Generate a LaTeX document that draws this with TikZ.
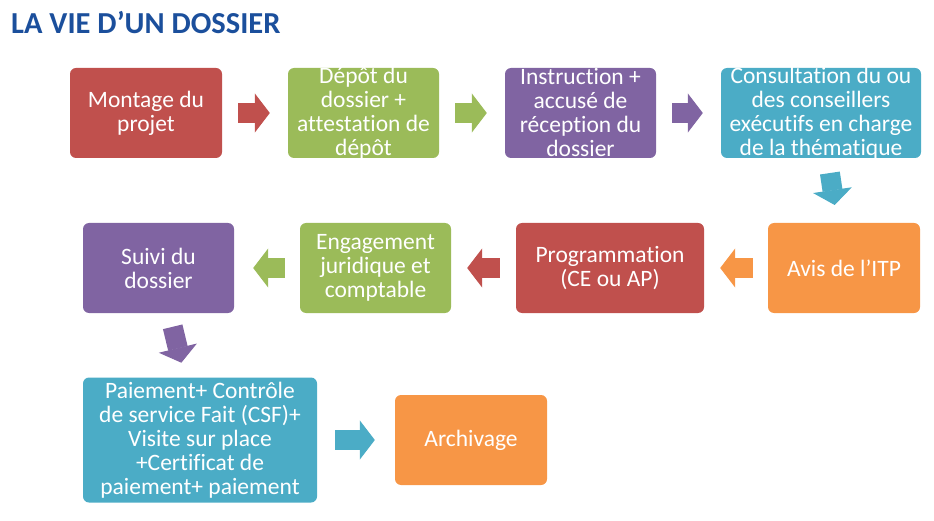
\documentclass[tikz,border=0pt]{standalone}
\usepackage{fontspec}
\setmainfont{Carlito}[Ligatures=NoCommon]
\usepackage{tikz}
\usetikzlibrary{calc}
\usetikzlibrary{arrows.meta}
\definecolor{vred}{HTML}{C0504D}
\definecolor{vgreen}{HTML}{9BBB59}
\definecolor{vpurple}{HTML}{8064A2}
\definecolor{vteal}{HTML}{4BACC6}
\definecolor{vorange}{HTML}{F79646}
\definecolor{vtitle}{HTML}{1B4F9C}
\tikzset{
    stepbox/.style={
    fill=#1,
    rounded corners=6pt,
    inner sep=0pt,
    minimum height=90pt
    },
    boxtext/.style={
    text=white,
    align=center,
    inner sep=0pt,
    font=\fontsize{23.5}{24}\selectfont
    },
    fatarrow/.style={
    draw=#1,
    line width=20pt,
    -{Triangle[width=39pt,length=15pt,line width=1pt]}
    }
}

\begin{document}
\begin{tikzpicture}[x=1pt,y=-1pt]
\useasboundingbox (0,0) rectangle (934,521);
\node[anchor=base west,inner sep=0pt,text=vtitle,font=\fontsize{30.5}{32}\selectfont\bfseries] (title) at (11,34) {LA VIE D’UN DOSSIER};
% first row
\node[stepbox=vred,minimum width=152pt,label={[boxtext]center:{Montage du\\projet}}] (n1) at (146,113) {};
\node[stepbox=vgreen,minimum width=151pt,label={[boxtext]center:{Dépôt du\\dossier +\\attestation de\\dépôt}}] (n2) at (363.5,113) {};
\node[stepbox=vpurple,minimum width=151pt,label={[boxtext]center:{Instruction +\\accusé de\\réception du\\dossier}}] (n3) at (580.5,113) {};
\node[stepbox=vteal,minimum width=200pt,label={[boxtext]center:{Consultation du ou\\des conseillers\\exécutifs en charge\\de la thématique}}] (n4) at (821,113) {};
% second row
\node[stepbox=vorange,minimum width=152pt,label={[boxtext]center:{Avis de l’ITP}}] (n5) at (844,268) {};
\node[stepbox=vred,minimum width=188pt,label={[boxtext]center:{Programmation\\(CE ou AP)}}] (n6) at (610,268) {};
\node[stepbox=vgreen,minimum width=151pt,label={[boxtext]center:{Engagement\\juridique et\\comptable}}] (n7) at (375.5,268) {};
\node[stepbox=vpurple,minimum width=151pt,label={[boxtext]center:{Suivi du\\dossier}}] (n8) at (158.5,268) {};
% third row
\node[stepbox=vteal,minimum width=234pt,minimum height=125pt,label={[boxtext]center:{Paiement+ Contrôle\\de service Fait (CSF)+\\Visite sur place\\+Certificat de\\paiement+ paiement}}] (n9) at (200,440) {};
\node[stepbox=vorange,minimum width=152pt,label={[boxtext]center:{Archivage}}] (n10) at (471,440) {};
% arrows
\draw[fatarrow=vred,shorten <=16pt,shorten >=18pt] (n1) -- (n2);
\draw[fatarrow=vgreen,shorten <=16pt,shorten >=18pt] (n2) -- (n3);
\draw[fatarrow=vpurple,shorten <=16pt,shorten >=18pt] (n3) -- (n4);
\draw[fatarrow=vteal,shorten <=15pt,shorten >=18pt] (n4) -- (n5);
\draw[fatarrow=vorange,shorten <=15pt,shorten >=16pt] (n5) -- (n6);
\draw[fatarrow=vred,shorten <=16pt,shorten >=16pt] (n6) -- (n7);
\draw[fatarrow=vgreen,shorten <=15pt,shorten >=19pt] (n7) -- (n8);
\draw[fatarrow=vpurple,shorten <=14pt,shorten >=15pt] (n8) -- (n9);
\draw[fatarrow=vteal,shorten <=18pt,shorten >=20pt] (n9) -- (n10);
\end{tikzpicture}
\end{document}
